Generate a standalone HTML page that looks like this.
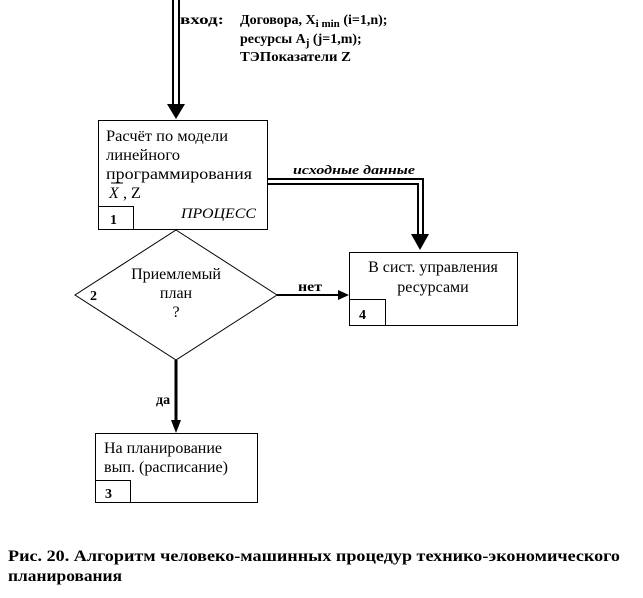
<!DOCTYPE html>
<html><head><meta charset="utf-8"><style>
html,body{margin:0;padding:0;background:#fff;width:643px;height:598px;overflow:hidden}
svg{display:block}
text{font-family:"Liberation Serif","Noto Serif CJK SC",serif;fill:#000}
</style></head><body>
<svg width="643" height="598" viewBox="0 0 643 598" xmlns="http://www.w3.org/2000/svg">
<!-- input double arrow -->
<line x1="173" y1="0" x2="173" y2="108" stroke="#000" stroke-width="2"/>
<line x1="179" y1="0" x2="179" y2="108" stroke="#000" stroke-width="2"/>
<path d="M167,104 L185,104 L176,119 z"/>
<text x="180" y="24" font-size="14" font-weight="bold" textLength="44" lengthAdjust="spacingAndGlyphs">вход:</text>
<text x="240" y="24" font-size="14" font-weight="bold">Договора, X<tspan font-size="11" dy="3">i min</tspan><tspan dy="-3"> (i=1,n);</tspan></text>
<text x="240" y="43" font-size="14" font-weight="bold">ресурсы A<tspan font-size="11" dy="3">j</tspan><tspan dy="-3"> (j=1,m);</tspan></text>
<text x="240" y="61" font-size="14" font-weight="bold" textLength="111" lengthAdjust="spacingAndGlyphs">ТЭПоказатели Z</text>
<!-- box 1 -->
<rect x="98.5" y="120.5" width="169" height="109" fill="none" stroke="#000"/>
<rect x="98.5" y="206.5" width="35" height="23" fill="none" stroke="#000"/>
<text x="106" y="141" font-size="16" textLength="122" lengthAdjust="spacingAndGlyphs">Расчёт по модели</text>
<text x="106" y="160" font-size="16" textLength="74" lengthAdjust="spacingAndGlyphs">линейного</text>
<text x="106" y="179" font-size="16" textLength="146" lengthAdjust="spacingAndGlyphs">программирования</text>
<line x1="111" y1="183" x2="123" y2="183" stroke="#000"/>
<text x="109" y="198" font-size="16" font-style="italic">X</text>
<text x="123" y="198" font-size="16">, Z</text>
<text x="181" y="218" font-size="15" font-style="italic" textLength="75" lengthAdjust="spacingAndGlyphs">ПРОЦЕСС</text>
<text x="110" y="224" font-size="14" font-weight="bold">1</text>
<!-- double line to box 4 -->
<path d="M268,179 L423,179 L423,238" fill="none" stroke="#000" stroke-width="2"/>
<path d="M268,184 L418,184 L418,238" fill="none" stroke="#000" stroke-width="2"/>
<path d="M411,234 L429,234 L420,250 z"/>
<text x="293" y="174" font-size="13" font-weight="bold" font-style="italic" textLength="122" lengthAdjust="spacingAndGlyphs">исходные данные</text>
<!-- diamond -->
<polygon points="176,230 277,295 176,360 75,295" fill="none" stroke="#000" stroke-width="1"/>
<text x="176" y="279" font-size="16" text-anchor="middle">Приемлемый</text>
<text x="176" y="298" font-size="16" text-anchor="middle">план</text>
<text x="176" y="317" font-size="16" text-anchor="middle">?</text>
<text x="90" y="300" font-size="14" font-weight="bold">2</text>
<!-- no arrow -->
<line x1="277" y1="295" x2="340" y2="295" stroke="#000" stroke-width="2"/>
<path d="M338,290 L349,295 L338,300 z"/>
<text x="298" y="291" font-size="14" font-weight="bold" textLength="24" lengthAdjust="spacingAndGlyphs">нет</text>
<!-- box 4 -->
<rect x="349.5" y="252.5" width="168" height="73" fill="none" stroke="#000"/>
<rect x="349.5" y="299.5" width="36" height="26" fill="none" stroke="#000"/>
<text x="433" y="272" font-size="16" text-anchor="middle">В сист. управления</text>
<text x="433" y="292" font-size="16" text-anchor="middle">ресурсами</text>
<text x="359" y="319" font-size="14" font-weight="bold">4</text>
<!-- yes arrow -->
<line x1="176" y1="360" x2="176" y2="422" stroke="#000" stroke-width="3"/>
<path d="M171,420 L181,420 L176,433 z"/>
<text x="156" y="404" font-size="14" font-weight="bold">да</text>
<!-- box 3 -->
<rect x="95.5" y="433.5" width="162" height="69" fill="none" stroke="#000"/>
<rect x="95.5" y="480.5" width="35" height="22" fill="none" stroke="#000"/>
<text x="104" y="453" font-size="16" textLength="118" lengthAdjust="spacingAndGlyphs">На планирование</text>
<text x="104" y="472" font-size="16" textLength="124" lengthAdjust="spacingAndGlyphs">вып. (расписание)</text>
<text x="105" y="498" font-size="14" font-weight="bold">3</text>
<!-- caption -->
<text x="8" y="561" font-size="16" font-weight="bold" textLength="612" lengthAdjust="spacingAndGlyphs">Рис. 20. Алгоритм человеко-машинных процедур технико-экономического</text>
<text x="8" y="581" font-size="16" font-weight="bold" textLength="114" lengthAdjust="spacingAndGlyphs">планирования</text>
</svg>
</body></html>
